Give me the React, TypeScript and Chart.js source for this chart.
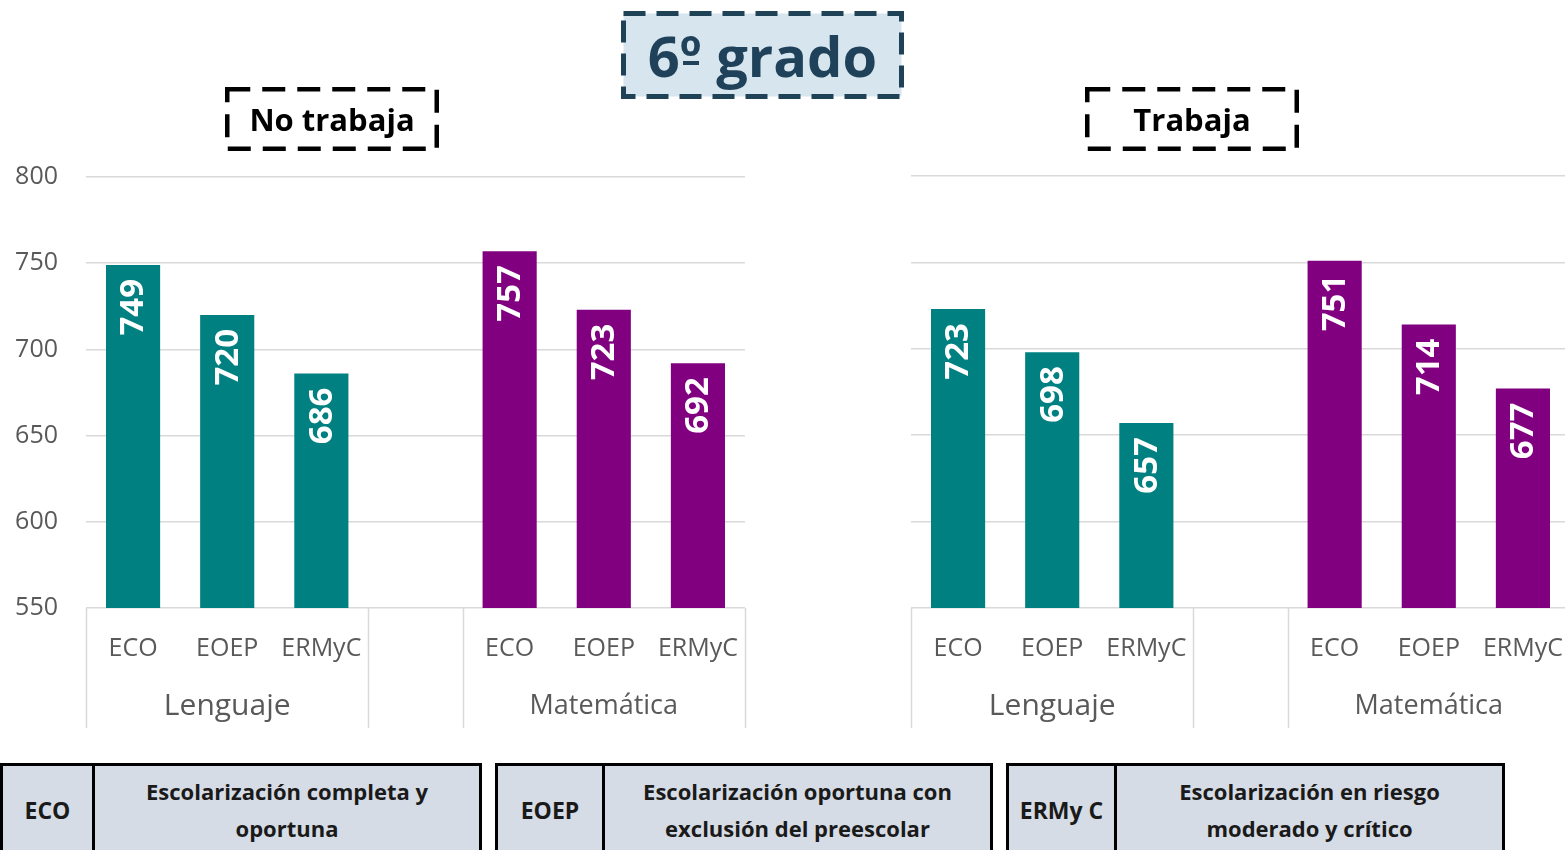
import React, { useEffect, useRef } from "react";
import { Chart, registerables } from "chart.js";

Chart.register(...registerables);

// ---- Data ----
const categories = ["ECO", "EOEP", "ERMyC", "", "ECO", "EOEP", "ERMyC"];
const subjects = ["Lenguaje", "Matemática"];
const noTrabajaLenguaje = [749, 720, 686];
const noTrabajaMatematica = [757, 723, 692];
const trabajaLenguaje = [723, 698, 657];
const trabajaMatematica = [751, 714, 677];
const yMin = 550;
const yMax = 800;
const yStep = 50;
const panelTitles = ["No trabaja", "Trabaja"];
const titleNumber = "6";
const titleOrdinal = "º";
const titleWord = "grado";
const legendCodes = ["ECO", "EOEP", "ERMy C"];
const legendTexts = [
  ["Escolarización completa y", "oportuna"],
  ["Escolarización oportuna con", "exclusión del preescolar"],
  ["Escolarización en riesgo", "moderado y crítico"],
];

const TEAL = "#008080";
const PURPLE = "#800080";
const GRID = "#d9d9d9";
const LABEL = "#595959";
const FONT = '"Open Sans", "Noto Sans", sans-serif';
const subjectFontSizes = [30, 27];

// group spans derived from categories (blank entry separates groups)
function groupSpans(cats: string[]): [number, number][] {
  const spans: [number, number][] = [];
  let start = -1;
  cats.forEach((c, i) => {
    if (c !== "" && start < 0) start = i;
    if (c === "" && start >= 0) {
      spans.push([start, i]);
      start = -1;
    }
  });
  if (start >= 0) spans.push([start, cats.length]);
  return spans;
}

function buildValues(a: number[], b: number[]) {
  return [...a, null, ...b];
}

function buildColors() {
  const spans = groupSpans(categories);
  const colors = categories.map(() => "rgba(0,0,0,0)");
  spans.forEach(([s, e], gi) => {
    for (let i = s; i < e; i++) colors[i] = gi === 0 ? TEAL : PURPLE;
  });
  return colors;
}

const groupAxisPlugin = {
  id: "groupAxis",
  afterDraw(chart: any) {
    const ctx = chart.ctx;
    const xs = chart.scales.x;
    const area = chart.chartArea;
    const n = categories.length;
    const slot = xs.getPixelForValue(1) - xs.getPixelForValue(0);
    const left0 = xs.getPixelForValue(0) - slot / 2;
    const spans = groupSpans(categories);
    ctx.save();
    ctx.strokeStyle = GRID;
    ctx.lineWidth = 1.5;
    const bounds: number[] = [];
    spans.forEach(([s, e]) => {
      bounds.push(s, e);
    });
    bounds.forEach((b) => {
      const px = Math.round(left0 + b * slot) + 0.5;
      ctx.beginPath();
      ctx.moveTo(px, area.bottom);
      ctx.lineTo(px, area.bottom + 120);
      ctx.stroke();
    });
    ctx.fillStyle = LABEL;
    ctx.textAlign = "center";
    ctx.textBaseline = "middle";
    ctx.font = `25px ${FONT}`;
    for (let i = 0; i < n; i++) {
      if (categories[i]) ctx.fillText(categories[i], xs.getPixelForValue(i), area.bottom + 41);
    }
    spans.forEach(([s, e], gi) => {
      ctx.font = `${subjectFontSizes[gi]}px ${FONT}`;
      const cx = left0 + ((s + e) / 2) * slot;
      ctx.fillText(subjects[gi], cx, area.bottom + 98);
    });
    ctx.restore();
  },
};

const valueLabelPlugin = {
  id: "valueLabels",
  afterDatasetsDraw(chart: any) {
    const ctx = chart.ctx;
    const meta = chart.getDatasetMeta(0);
    const data = chart.data.datasets[0].data;
    ctx.save();
    ctx.fillStyle = "#ffffff";
    ctx.font = `bold 33px ${FONT}`;
    ctx.textAlign = "right";
    ctx.textBaseline = "middle";
    meta.data.forEach((bar: any, i: number) => {
      const v = data[i];
      if (v == null) return;
      ctx.save();
      ctx.translate(bar.x, bar.y + 14);
      ctx.rotate(-Math.PI / 2);
      ctx.fillText(String(v), 0, 1);
      ctx.restore();
    });
    ctx.restore();
  },
};

function Panel(props: {
  values: (number | null)[];
  left: number;
  top: number;
  width: number;
  height: number;
  showY: boolean;
  padLeft: number;
  padRight: number;
  padTop: number;
}) {
  const ref = useRef<HTMLCanvasElement>(null);
  useEffect(() => {
    const canvas = ref.current!;
    const chart = new Chart(canvas, {
      type: "bar",
      data: {
        labels: categories,
        datasets: [
          {
            data: props.values as any,
            backgroundColor: buildColors(),
            barPercentage: 0.575,
            categoryPercentage: 1,
          },
        ],
      },
      options: {
        responsive: false,
        animation: false,
        devicePixelRatio: 1,
        layout: {
          padding: { top: props.padTop, bottom: 132, left: props.padLeft, right: props.padRight },
        },
        plugins: { legend: { display: false }, tooltip: { enabled: false } },
        scales: {
          x: { display: false },
          y: {
            min: yMin,
            max: yMax,
            ticks: {
              stepSize: yStep,
              display: props.showY,
              padding: 28,
              color: LABEL,
              font: { family: FONT, size: 25 },
            },
            grid: { color: GRID, lineWidth: 1.5, drawTicks: false },
            border: { display: false },
            afterFit: (scale: any) => {
              scale.width = props.showY ? 86 : 0;
            },
          },
        },
      } as any,
      plugins: [groupAxisPlugin, valueLabelPlugin],
    });
    return () => chart.destroy();
  }, []);
  return (
    <canvas
      ref={ref}
      width={props.width}
      height={props.height}
      style={{ position: "absolute", left: props.left, top: props.top, width: props.width, height: props.height }}
    />
  );
}

function DashedBox(props: {
  left: number;
  top: number;
  width: number;
  height: number;
  stroke: string;
  fill: string;
  sw: number;
  dash: string;
  color: string;
  size: number;
  children: any;
}) {
  const { left, top, width, height, stroke, fill, sw, dash, color, size } = props;
  return (
    <div style={{ position: "absolute", left, top, width, height }}>
      <svg width={width} height={height} style={{ position: "absolute", left: 0, top: 0 }}>
        <rect
          x={sw / 2}
          y={sw / 2}
          width={width - sw}
          height={height - sw}
          fill={fill}
          stroke={stroke}
          strokeWidth={sw}
          strokeDasharray={dash}
        />
      </svg>
      <div
        style={{
          position: "absolute",
          left: 0,
          top: 0,
          width,
          height,
          display: "flex",
          alignItems: "center",
          justifyContent: "center",
          fontFamily: FONT,
          fontWeight: 700,
          fontSize: size,
          color,
          lineHeight: 1,
          whiteSpace: "pre",
        }}
      >
        {props.children}
      </div>
    </div>
  );
}

function LegendBox(props: { left: number; width: number; codeW: number; code: string; lines: string[] }) {
  return (
    <div
      style={{
        position: "absolute",
        left: props.left,
        top: 763,
        width: props.width,
        height: 94,
        boxSizing: "border-box",
        border: "3px solid #000",
        background: "#d6dce5",
        display: "flex",
        fontFamily: FONT,
        fontWeight: 700,
        color: "#1a1a1a",
      }}
    >
      <div
        style={{
          width: props.codeW,
          borderRight: "3px solid #000",
          display: "flex",
          alignItems: "center",
          justifyContent: "center",
          fontSize: 23,
          boxSizing: "border-box",
        }}
      >
        {props.code}
      </div>
      <div
        style={{
          flex: 1,
          display: "flex",
          flexDirection: "column",
          alignItems: "center",
          justifyContent: "center",
          fontSize: 22,
          lineHeight: "37px",
        }}
      >
        {props.lines.map((l, i) => (
          <div key={i}>{l}</div>
        ))}
      </div>
    </div>
  );
}

export default function App() {
  return (
    <div
      style={{
        position: "absolute",
        left: 0,
        top: 0,
        width: 1565,
        height: 850,
        overflow: "hidden",
        background: "#ffffff",
      }}
    >
      <Panel
        values={buildValues(noTrabajaLenguaje, noTrabajaMatematica)}
        left={0}
        top={134}
        width={760}
        height={606}
        showY={true}
        padLeft={0}
        padRight={15}
        padTop={10}
      />
      <Panel
        values={buildValues(trabajaLenguaje, trabajaMatematica)}
        left={900}
        top={150}
        width={670}
        height={590}
        showY={false}
        padLeft={11}
        padRight={0}
        padTop={26}
      />
      <DashedBox
        left={621}
        top={11}
        width={283}
        height={88}
        stroke="#1f4257"
        fill="#d7e5ef"
        sw={5}
        dash="22 11"
        color="#1f4159"
        size={56}
      >
        <span>{titleNumber}</span>
        <span style={{ position: "relative", display: "inline-block" }}>
          {titleOrdinal}
          <span
            style={{
              position: "absolute",
              left: 3,
              right: 3,
              top: 34,
              height: 4,
              background: "#1f4159",
            }}
          />
        </span>
        <span>{" " + titleWord}</span>
      </DashedBox>
      <DashedBox
        left={225}
        top={87}
        width={214}
        height={64}
        stroke="#000"
        fill="#fff"
        sw={4.5}
        dash="23 12"
        color="#000"
        size={31}
      >
        {panelTitles[0]}
      </DashedBox>
      <DashedBox
        left={1085}
        top={87}
        width={214}
        height={64}
        stroke="#000"
        fill="#fff"
        sw={4.5}
        dash="23 12"
        color="#000"
        size={31}
      >
        {panelTitles[1]}
      </DashedBox>
      <LegendBox left={0} width={482} codeW={92} code={legendCodes[0]} lines={legendTexts[0]} />
      <LegendBox left={495} width={498} codeW={107} code={legendCodes[1]} lines={legendTexts[1]} />
      <LegendBox left={1006} width={499} codeW={108} code={legendCodes[2]} lines={legendTexts[2]} />
    </div>
  );
}
